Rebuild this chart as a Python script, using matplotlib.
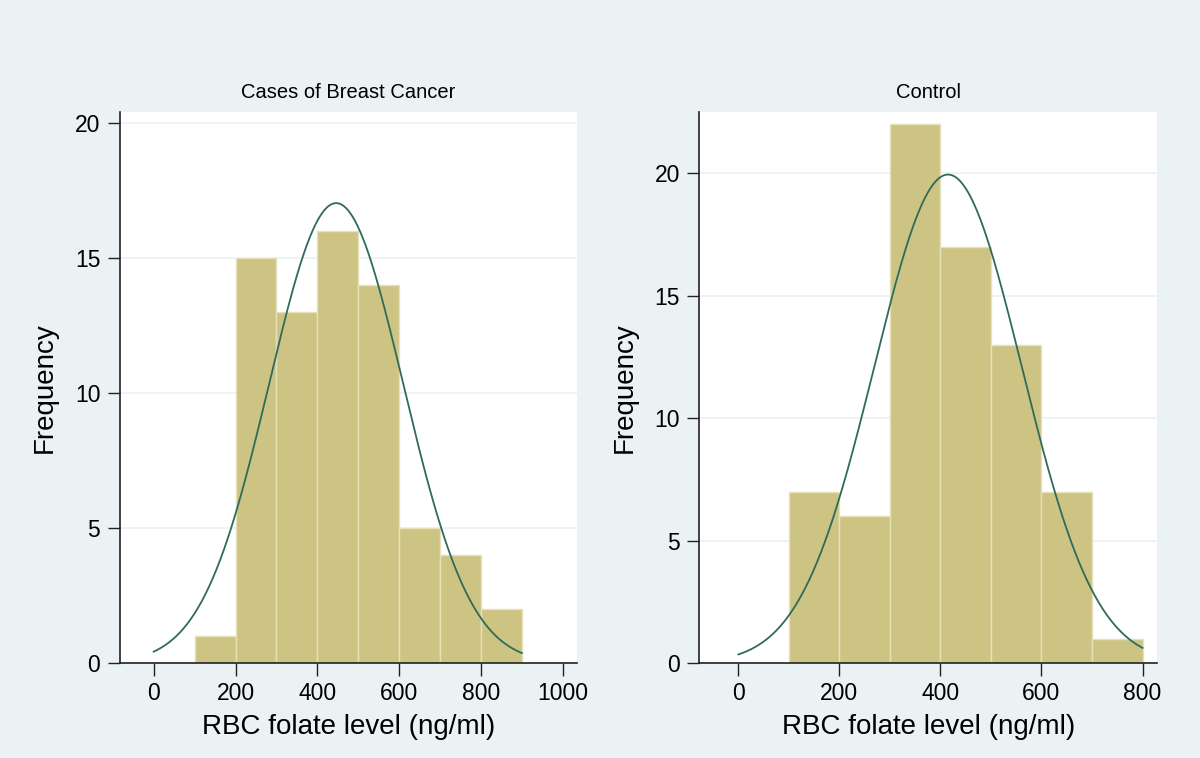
import matplotlib
matplotlib.use('Agg')
import matplotlib.pyplot as plt
import numpy as np

plt.rcParams['font.family'] = ['Liberation Sans', 'DejaVu Sans']

# histogram bins (left edges, width 100) and counts
cases_edges = [100, 200, 300, 400, 500, 600, 700, 800]
cases_counts = [1, 15, 13, 16, 14, 5, 4, 2]
control_edges = [100, 200, 300, 400, 500, 600, 700]
control_counts = [7, 6, 22, 17, 13, 7, 1]

# fitted normal curves (mean, sd)
cases_mean, cases_sd = 446, 164
control_mean, control_sd = 415, 146
bin_width = 100

bg = '#eaf2f3'
bar_color = '#cdc483'
curve_color = '#2f6b5c'


def draw_panel(ax, edges, counts, mean, sd, curve_end, title, xticks, xlim, ylim):
    ax.bar(edges, counts, width=bin_width, align='edge', color=bar_color,
           edgecolor='#e6e1b8', linewidth=1, zorder=2)
    n = sum(counts)
    xs = np.linspace(0, curve_end, 400)
    ys = n * bin_width / (sd * np.sqrt(2 * np.pi)) * np.exp(-(xs - mean) ** 2 / (2 * sd ** 2))
    ax.plot(xs, ys, color=curve_color, linewidth=1.3, zorder=3)
    ax.set_xlim(*xlim)
    ax.set_ylim(*ylim)
    ax.set_xticks(xticks)
    ax.set_yticks([0, 5, 10, 15, 20])
    ax.yaxis.grid(True, color=bg, linewidth=1.2, zorder=0)
    ax.set_axisbelow(True)
    for s in ['top', 'right']:
        ax.spines[s].set_visible(False)
    for s in ['left', 'bottom']:
        ax.spines[s].set_color('#222222')
        ax.spines[s].set_linewidth(1.2)
    ax.tick_params(direction='out', length=9, width=1, labelsize=16.5, color='#222222', pad=5)
    ax.set_title(title, fontsize=14.5, pad=10)
    ax.set_xlabel('RBC folate level (ng/ml)', fontsize=20, labelpad=6)
    ax.set_ylabel('Frequency', fontsize=20, labelpad=12)


fig = plt.figure(figsize=(12, 7.58), dpi=100)
fig.patch.set_facecolor(bg)

ax1 = fig.add_axes([0.0998, 0.1253, 0.3808, 0.7269])
ax2 = fig.add_axes([0.5829, 0.1253, 0.3814, 0.7269])

draw_panel(ax1, cases_edges, cases_counts, cases_mean, cases_sd, 900,
           'Cases of Breast Cancer', [0, 200, 400, 600, 800, 1000], (-83, 1034), (0, 20.4))
draw_panel(ax2, control_edges, control_counts, control_mean, control_sd, 800,
           'Control', [0, 200, 400, 600, 800], (-77, 829), (0, 22.5))

plt.savefig('out.png', dpi=100, facecolor=bg)
